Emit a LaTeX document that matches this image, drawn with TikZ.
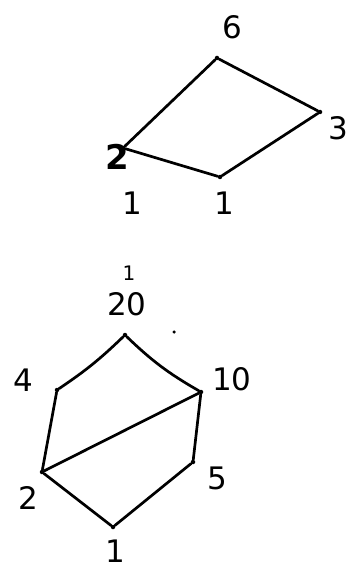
\documentclass[tikz,border=0pt]{standalone}
\usepackage{fontspec}
\setmainfont{DejaVu Sans}
\begin{document}
\begin{tikzpicture}[x=1pt,y=-1pt,
  vtx/.style={circle,fill=black,inner sep=0pt,minimum size=4.5pt},
  lbl/.style={font=\fontsize{31}{34}\selectfont,inner sep=0pt},
  edge/.style={line width=2.7pt,line cap=round}]
\useasboundingbox (0,0) rectangle (359,569);
% top diagram
\node[vtx] (t6) at (217,58) {};
\node[vtx] (t3) at (320,112) {};
\node[vtx] (t2) at (123,148) {};
\node[vtx] (t1) at (220,177) {};
\draw[edge] (t6) -- (t3);
\draw[edge] (t6) -- (t2);
\draw[edge] (t2) -- (t1);
\draw[edge] (t1) -- (t3);
\node[lbl] (l6) at (232,27) {6};
\node[lbl] (l3) at (338,128) {3};
\node[lbl,font=\fontsize{34}{36}\bfseries] (l2) at (117,157) {2};
\node[lbl] (l1) at (224,203) {1};
\node[lbl] (s1) at (132,203) {1};
\node[lbl,font=\fontsize{20}{22}\selectfont] (s2) at (129,273) {1};
\node[circle,fill=black,inner sep=0pt,minimum size=3.5pt] (dot) at (174,332) {};
% bottom diagram
\node[vtx] (b20) at (125,335) {};
\node[vtx] (b4) at (57,390) {};
\node[vtx] (b10) at (201,392) {};
\node[vtx] (b5) at (193,462) {};
\node[vtx] (b2) at (42,472) {};
\node[vtx] (b1) at (113,527) {};
\draw[edge] (b20) to[bend left=5] (b4);
\draw[edge] (b20) to[bend right=7] (b10);
\draw[edge] (b4) -- (b2);
\draw[edge] (b2) -- (b10);
\draw[edge] (b10) -- (b5);
\draw[edge] (b5) -- (b1);
\draw[edge] (b2) -- (b1);
\node[lbl] (l20) at (127,304) {20};
\node[lbl] (l4) at (23,380) {4};
\node[lbl] (l10) at (232,379) {10};
\node[lbl] (l5) at (217,478) {5};
\node[lbl] (lb2) at (28,498) {2};
\node[lbl] (lb1) at (115,551) {1};
\end{tikzpicture}
\end{document}
